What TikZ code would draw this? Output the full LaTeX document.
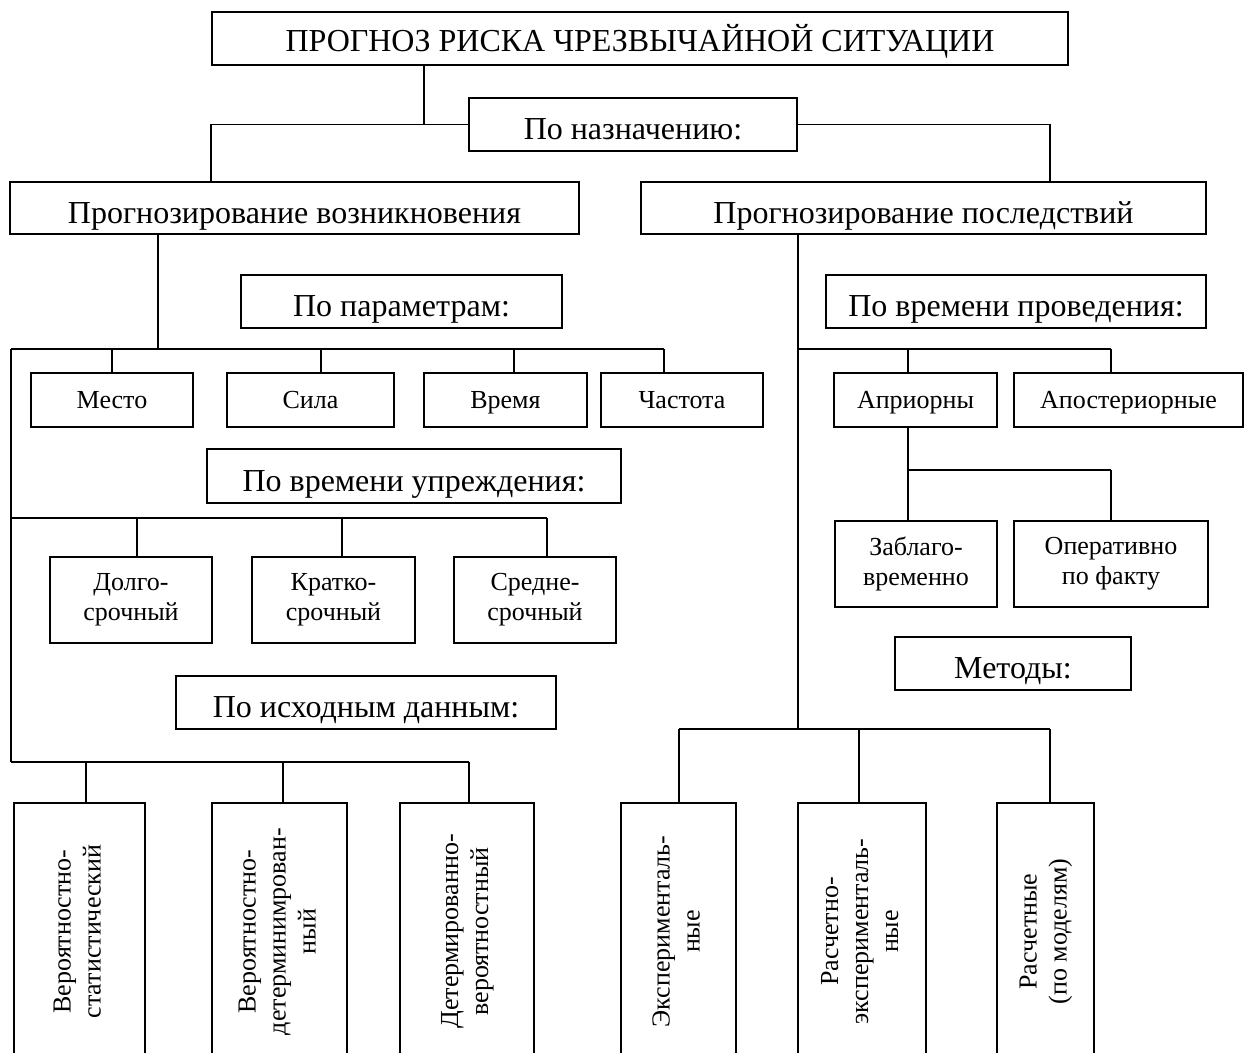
\documentclass[tikz,border=0pt]{standalone}
\usepackage{fontspec}
\setmainfont{Liberation Serif}

\begin{document}
\begin{tikzpicture}[x=1pt, y=-1pt, line width=1.8pt,
    box/.style={rectangle, draw, line width=1.8pt, inner sep=0pt, align=center, font=\fontsize{26}{30}\selectfont, text height=17pt, text depth=0pt},
    bigbox/.style={box, font=\fontsize{32}{36}\selectfont, minimum height=53pt, text height=30pt, text depth=0pt},
    twobox/.style={box, minimum height=86pt, text height=, text depth=},
    vbox/.style={box, minimum height=257pt, text height=, text depth=}]
    \useasboundingbox (0,0) rectangle (1249,1052);

    % upper levels
    \node (title) [bigbox, minimum width=856pt, text height=26pt] at (640,38.5) {ПРОГНОЗ РИСКА ЧРЕЗВЫЧАЙНОЙ СИТУАЦИИ};
    \node (naz) [bigbox, minimum width=328pt] at (633,124.5) {По назначению:};
    \node (voz) [bigbox, minimum width=569pt, minimum height=52pt] at (294.5,208) {Прогнозирование возникновения};
    \node (posl) [bigbox, minimum width=565pt, minimum height=52pt] at (923.5,208) {Прогнозирование последствий};

    % left branch
    \node (param) [bigbox, minimum width=321pt] at (401.5,301.5) {По параметрам:};
    \node (mesto) [box, minimum width=162pt, minimum height=54pt] at (112,400) {Место};
    \node (sila) [box, minimum width=167pt, minimum height=54pt] at (310.5,400) {Сила};
    \node (vremya) [box, minimum width=163pt, minimum height=54pt] at (505.5,400) {Время};
    \node (chastota) [box, minimum width=162pt, minimum height=54pt] at (682,400) {Частота};
    \node (upr) [bigbox, minimum width=414pt, minimum height=54pt] at (414,476) {По времени упреждения:};
    \node (dolgo) [twobox, minimum width=162pt] at (131,600) {Долго-\\срочный};
    \node (kratko) [twobox, minimum width=163pt] at (333.5,600) {Кратко-\\срочный};
    \node (sredne) [twobox, minimum width=162pt] at (535,600) {Средне-\\срочный};
    \node (ishod) [bigbox, minimum width=380pt] at (366,702.5) {По исходным данным:};
    \node (v1) [vbox, minimum width=131pt] at (79.5,931.5) {\rotatebox{90}{\begin{tabular}{@{}c@{}}Вероятностно-\\статистический\end{tabular}}};
    \node (v2) [vbox, minimum width=135pt] at (279.5,931.5) {\rotatebox{90}{\begin{tabular}{@{}c@{}}Вероятностно-\\детерминимрован-\\ный\end{tabular}}};
    \node (v3) [vbox, minimum width=134pt] at (467,931.5) {\rotatebox{90}{\begin{tabular}{@{}c@{}}Детермированно-\\вероятностный\end{tabular}}};

    % right branch
    \node (provd) [bigbox, minimum width=380pt] at (1016,301.5) {По времени проведения:};
    \node (apr) [box, minimum width=163pt, minimum height=54pt] at (915.5,400) {Априорны};
    \node (apost) [box, minimum width=229pt, minimum height=54pt] at (1128.5,400) {Апостериорные};
    \node (zabl) [twobox, minimum width=162pt] at (916,564) {Заблаго-\\временно};
    \node (oper) [twobox, minimum width=194pt] at (1111,564) {Оперативно\\по факту};
    \node (metody) [bigbox, minimum width=236pt] at (1013,663.5) {Методы:};
    \node (v4) [vbox, minimum width=115pt] at (678.5,931.5) {\rotatebox{90}{\begin{tabular}{@{}c@{}}Эксперименталь-\\ные\end{tabular}}};
    \node (v5) [vbox, minimum width=128pt] at (862,931.5) {\rotatebox{90}{\begin{tabular}{@{}c@{}}Расчетно-\\эксперименталь-\\ные\end{tabular}}};
    \node (v6) [vbox, minimum width=97pt] at (1045.5,931.5) {\rotatebox{90}{\begin{tabular}{@{}c@{}}Расчетные\\(по моделям)\end{tabular}}};

    % connectors
    \coordinate (j0) at (424,124.5);
    \coordinate (r0) at (1050,124.5);
    \draw (title.south -| j0) -- (j0);
    \draw (naz.west) -| (voz.north -| title.west);
    \draw (naz.east) -- (r0) -- (posl.north -| r0);

    \coordinate (pv) at (158,349);
    \coordinate (pl) at (11,349);
    \coordinate (pr) at (664,349);
    \coordinate (ul) at (11,518);
    \coordinate (ur) at (547,518);
    \coordinate (il) at (11,762);
    \coordinate (ir) at (469,762);
    \draw (voz.south -| pv) -- (pv);
    \draw (pl) -- (pr);
    \draw (pl) -- (il);
    \draw (ul) -- (ur);
    \draw (il) -- (ir);
    \foreach \n/\x in {mesto/112, sila/321, vremya/514, chastota/664}
        \draw (\x,349) -- (\n.north -| \x,349);
    \foreach \n/\x in {dolgo/137, kratko/342, sredne/547}
        \draw (\x,518) -- (\n.north -| \x,518);
    \foreach \n/\x in {v1/86, v2/283, v3/469}
        \draw (\x,762) -- (\n.north -| \x,762);

    \coordinate (tv) at (798,349);
    \coordinate (tm) at (798,729);
    \coordinate (aj) at (908,470);
    \draw (posl.south -| tv) -- (tm);
    \draw (tv) -- (1111,349);
    \foreach \n/\x in {apr/908, apost/1111}
        \draw (\x,349) -- (\n.north -| \x,349);
    \draw (apr.south -| aj) -- (aj) -- (1111,470);
    \foreach \n/\x in {zabl/908, oper/1111}
        \draw (\x,470) -- (\n.north -| \x,470);
    \draw (679,729) -- (1050,729);
    \foreach \n/\x in {v4/679, v5/859, v6/1050}
        \draw (\x,729) -- (\n.north -| \x,729);
\end{tikzpicture}
\end{document}
